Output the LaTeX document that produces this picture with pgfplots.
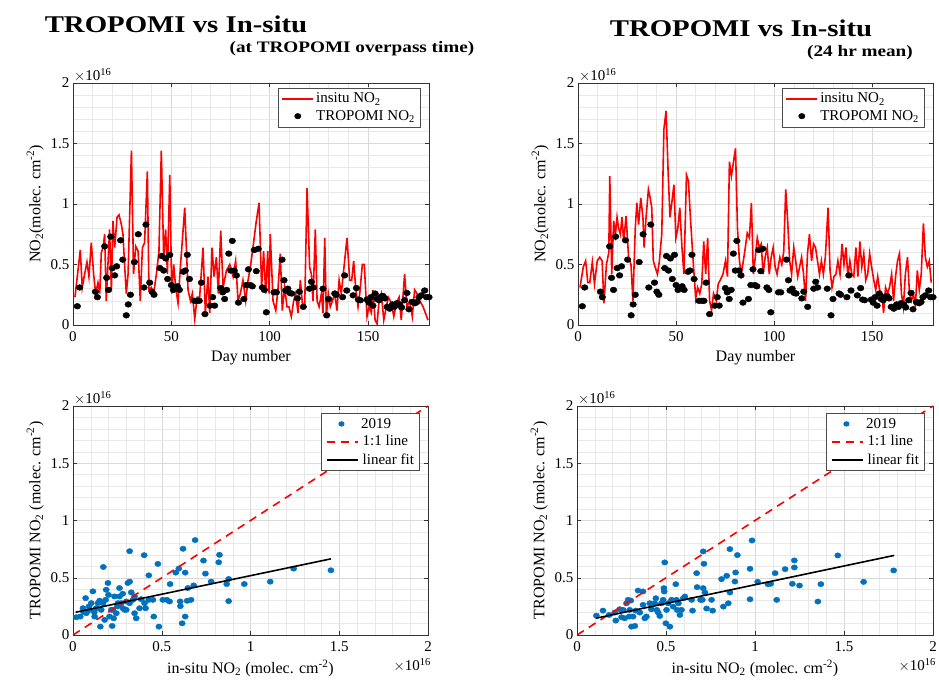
\documentclass[border=0pt]{standalone}
\usepackage{fontspec}
\setmainfont{Liberation Serif}
\usepackage{pgfplots}
\usepackage{pgfplotstable}
\pgfplotsset{compat=1.18}
\definecolor{mblue}{rgb}{0,0.447,0.741}

\pgfplotstableread{
x y
2.2 0.155
3.4 0.31
11.4 0.275
12.4 0.23
16.1 0.65
17.1 0.39
18.1 0.29
19.2 0.73
20.0 0.47
21.2 0.41
22.2 0.485
24.2 0.70
25.3 0.54
27.1 0.08
28.1 0.17
29.2 0.25
31.2 0.52
33.2 0.75
36.1 0.31
37.1 0.83
39.0 0.35
40.2 0.275
41.2 0.25
44.2 0.47
45.1 0.57
46.1 0.45
47.1 0.55
48.1 0.38
49.2 0.58
50.0 0.33
51.0 0.29
52.0 0.305
53.1 0.32
54.1 0.29
56.1 0.44
57.1 0.45
58.1 0.58
59.2 0.38
61.7 0.20
63.1 0.20
64.2 0.20
65.3 0.35
67.1 0.09
69.7 0.16
71.0 0.23
72.0 0.16
75.1 0.305
76.1 0.27
77.1 0.215
78.1 0.29
79.2 0.59
80.2 0.45
81.0 0.695
82.0 0.45
83.1 0.41
84.1 0.185
86.9 0.215
88.1 0.33
89.2 0.46
90.2 0.33
91.2 0.32
92.2 0.62
93.2 0.445
94.2 0.63
96.3 0.31
97.3 0.29
98.3 0.105
102.2 0.27
103.4 0.27
106.3 0.54
107.3 0.37
108.1 0.285
109.2 0.30
110.2 0.265
111.2 0.26
114.1 0.22
115.1 0.275
117.1 0.15
120.2 0.30
121.2 0.357
122.2 0.31
127.1 0.30
129.0 0.08
130.0 0.215
133.1 0.26
133.9 0.25
137.1 0.23
138.1 0.41
139.2 0.285
142.4 0.245
144.1 0.305
145.1 0.21
146.1 0.205
149.5 0.21
150.5 0.185
151.5 0.23
152.5 0.16
153.6 0.26
154.6 0.215
155.6 0.205
156.6 0.235
157.6 0.24
158.6 0.22
159.7 0.15
161.0 0.135
162.4 0.17
163.4 0.15
164.7 0.18
166.1 0.17
167.1 0.145
168.6 0.205
169.8 0.265
170.8 0.13
172.5 0.19
173.9 0.18
174.9 0.19
175.9 0.23
177.1 0.245
178.8 0.285
179.7 0.23
181.0 0.23
}\tropomi

\pgfplotstableread{
x y
1.0 0.23
3.7 0.62
4.7 0.31
5.9 0.42
7.1 0.52
8.1 0.40
9.3 0.68
10.5 0.42
11.5 0.26
12.7 0.35
13.6 0.26
14.4 0.60
15.3 0.64
16.1 0.75
16.9 0.20
18.6 0.79
19.5 0.29
20.3 0.86
21.2 0.64
22.4 0.89
23.4 0.91
24.6 0.83
25.4 0.75
26.3 0.48
27.1 0.26
28.0 0.42
29.7 1.44
30.8 0.42
31.9 0.65
33.1 0.61
34.2 0.20
35.3 0.64
36.4 0.68
37.8 1.27
38.6 0.29
39.8 0.31
41.0 0.26
42.4 0.42
43.7 0.61
44.9 1.44
46.1 0.56
47.1 0.79
48.0 0.42
49.2 1.24
50.2 0.26
51.2 0.50
52.2 0.31
53.4 0.18
54.6 0.48
56.8 0.97
58.5 0.29
59.7 0.20
60.7 0.26
61.9 0.05
63.1 0.23
64.4 0.23
66.1 0.64
67.3 0.10
68.6 0.40
69.5 0.10
70.7 0.64
71.7 0.40
72.9 0.56
73.9 0.26
75.1 0.78
76.3 0.31
78.0 0.45
79.7 0.50
81.4 0.40
82.7 0.53
83.9 0.20
85.1 0.26
86.4 0.37
87.8 0.20
89.0 0.37
90.2 0.48
91.5 0.64
93.2 0.86
94.6 1.01
95.9 0.31
96.9 0.61
98.0 0.26
99.0 0.61
99.7 0.26
100.3 0.75
101.7 0.20
103.1 0.12
104.2 0.29
105.4 0.59
106.4 0.12
107.6 0.31
108.8 0.15
109.8 0.15
111.0 0.07
112.2 0.20
113.2 0.26
114.4 0.10
115.6 0.37
116.6 0.18
117.8 0.15
119.0 1.13
120.3 0.48
121.2 0.42
122.0 0.20
123.2 0.79
124.1 0.20
125.1 0.15
126.3 0.26
127.1 0.10
128.0 0.72
128.8 0.07
129.8 0.26
130.8 0.15
131.9 0.20
133.1 0.26
134.2 0.12
135.3 0.37
136.4 0.26
139.3 0.72
140.7 0.37
141.7 0.37
142.7 0.53
143.7 0.31
144.9 0.15
145.8 0.26
147.1 0.50
148.1 0.50
149.5 0.07
150.5 0.15
151.7 0.10
152.5 0.29
153.6 0.04
154.6 0.01
155.6 0.20
156.8 0.26
158.0 0.04
159.3 0.15
160.3 0.23
161.9 0.18
163.1 0.07
164.4 0.18
165.8 0.23
166.9 0.04
168.6 0.42
169.8 0.15
171.2 0.20
172.5 0.07
173.7 0.29
174.9 0.26
176.3 0.20
178.0 0.15
180.5 0.04
}\insituA

\pgfplotstableread{
x y
1.0 0.31
2.7 0.48
3.9 0.53
5.0 0.35
6.0 0.35
7.3 0.52
8.4 0.34
9.8 0.53
11.1 0.56
12.3 0.53
13.2 0.18
14.5 0.50
15.7 0.60
16.2 1.23
17.2 0.42
18.2 0.86
19.1 0.75
19.9 0.89
20.7 0.80
21.6 0.75
22.4 0.89
23.3 0.69
24.5 0.90
25.8 0.56
27.0 0.50
28.0 0.20
29.2 0.80
30.0 1.01
30.9 0.83
32.0 1.05
33.1 0.89
33.7 0.64
34.7 0.89
35.9 1.12
36.8 1.05
37.6 0.97
38.4 0.53
39.3 0.48
40.5 0.42
41.5 0.53
42.7 0.75
43.8 1.62
44.9 1.77
46.0 1.24
46.9 0.89
47.9 1.02
48.9 1.16
49.9 0.72
50.9 0.80
51.9 0.97
53.0 0.64
54.0 0.42
55.3 1.24
56.3 1.19
57.3 0.89
58.7 0.53
60.0 0.22
61.0 0.31
62.1 0.26
63.1 0.34
64.1 0.69
65.1 0.42
66.1 0.72
67.1 0.20
68.1 0.12
69.1 0.26
70.5 0.20
71.5 0.34
72.5 0.37
73.9 0.42
75.2 0.53
76.2 0.40
77.2 1.35
78.2 1.23
79.3 1.35
80.3 1.46
81.3 0.80
82.3 0.53
83.3 0.42
84.3 0.53
85.3 0.64
86.3 0.76
87.4 0.72
88.4 1.01
89.4 0.42
90.4 0.56
91.4 0.72
92.4 0.64
93.4 0.67
94.4 0.42
95.4 0.56
96.5 0.64
97.5 0.42
98.5 0.56
99.5 0.64
100.5 0.48
101.5 0.42
102.9 0.56
103.9 0.50
104.9 0.61
105.9 1.12
106.9 0.86
107.9 0.53
108.9 0.42
110.0 0.64
111.0 0.53
112.0 0.40
113.0 0.48
114.0 0.56
115.0 0.42
116.0 0.20
117.0 0.59
118.0 0.75
119.1 0.53
120.1 0.67
121.1 0.64
122.1 0.53
123.1 0.42
124.1 0.53
125.1 0.42
126.1 0.56
127.5 0.97
128.5 0.45
129.5 0.31
130.5 0.40
131.5 0.42
132.5 0.53
133.6 0.42
134.6 0.67
135.6 0.50
136.6 0.64
137.6 0.40
138.6 0.53
139.6 0.42
140.6 0.40
141.7 0.64
142.7 0.40
143.7 0.69
144.7 0.48
145.7 0.59
146.7 0.37
147.7 0.42
148.7 0.59
149.7 0.48
150.8 0.37
151.8 0.29
152.8 0.40
153.8 0.29
154.8 0.26
155.8 0.10
156.8 0.31
157.8 0.26
158.8 0.31
159.9 0.42
160.9 0.20
161.9 0.40
162.9 0.53
163.9 0.59
164.9 0.26
165.9 0.15
166.9 0.42
168.0 0.56
169.0 0.26
170.0 0.20
171.0 0.26
172.0 0.15
173.0 0.45
174.0 0.29
175.0 0.42
176.1 0.84
177.1 0.56
178.1 0.48
179.1 0.53
180.1 0.35
}\insituB

\pgfplotstableread{
x y
0.171 0.594
0.319 0.732
0.401 0.697
0.427 0.521
0.478 0.621
0.620 0.753
0.688 0.829
0.735 0.650
0.746 0.536
0.632 0.545
0.596 0.580
0.579 0.545
0.825 0.700
0.821 0.635
0.778 0.466
0.866 0.445
0.877 0.489
0.877 0.296
0.965 0.445
1.111 0.466
1.243 0.580
1.453 0.565
0.547 0.445
0.647 0.410
0.680 0.433
0.665 0.307
0.643 0.299
0.604 0.293
0.605 0.252
0.632 0.161
0.615 0.102
0.506 0.307
0.529 0.307
0.544 0.293
0.450 0.307
0.427 0.307
0.455 0.161
0.484 0.073
0.409 0.234
0.375 0.234
0.356 0.146
0.347 0.190
0.337 0.307
0.328 0.372
0.309 0.454
0.319 0.466
0.262 0.410
0.262 0.337
0.253 0.278
0.272 0.278
0.281 0.234
0.291 0.220
0.300 0.220
0.234 0.337
0.225 0.220
0.221 0.079
0.229 0.146
0.206 0.161
0.197 0.454
0.187 0.395
0.184 0.307
0.169 0.278
0.159 0.220
0.154 0.073
0.178 0.132
0.141 0.278
0.131 0.234
0.112 0.381
0.103 0.278
0.094 0.220
0.071 0.322
0.056 0.234
0.041 0.161
0.019 0.155
0.075 0.190
0.122 0.161
0.216 0.220
0.244 0.190
0.300 0.293
0.319 0.278
0.347 0.337
0.384 0.313
0.403 0.278
0.090 0.250
0.150 0.300
0.200 0.350
0.250 0.250
0.280 0.360
0.120 0.200
0.060 0.200
}\scatA

\pgfplotstableread{
x y
0.109 0.169
0.146 0.213
0.180 0.175
0.212 0.196
0.218 0.126
0.250 0.155
0.259 0.219
0.268 0.146
0.278 0.277
0.287 0.307
0.293 0.161
0.302 0.301
0.306 0.073
0.315 0.161
0.325 0.079
0.330 0.213
0.343 0.388
0.353 0.196
0.371 0.380
0.371 0.263
0.381 0.146
0.390 0.161
0.409 0.277
0.418 0.225
0.437 0.277
0.443 0.321
0.456 0.196
0.465 0.166
0.475 0.277
0.484 0.307
0.488 0.409
0.493 0.634
0.499 0.102
0.503 0.219
0.512 0.277
0.522 0.073
0.531 0.307
0.540 0.248
0.555 0.444
0.559 0.307
0.563 0.219
0.570 0.277
0.578 0.175
0.587 0.219
0.597 0.321
0.606 0.336
0.644 0.307
0.649 0.213
0.672 0.540
0.675 0.418
0.694 0.307
0.704 0.307
0.709 0.730
0.709 0.409
0.713 0.622
0.719 0.371
0.728 0.231
0.756 0.307
0.762 0.213
0.812 0.488
0.822 0.248
0.841 0.517
0.850 0.277
0.859 0.750
0.859 0.371
0.887 0.467
0.891 0.546
0.901 0.698
0.972 0.578
0.972 0.312
0.983 0.826
1.015 0.464
1.073 0.444
1.088 0.447
1.113 0.540
1.122 0.307
1.169 0.575
1.210 0.447
1.221 0.651
1.221 0.590
1.250 0.432
1.353 0.292
1.370 0.444
1.465 0.695
1.610 0.464
1.779 0.564
0.490 0.380
0.448 0.219
0.296 0.219
0.240 0.225
}\scatB

\pgfplotsset{
  mystyle/.style={
    scale only axis,
    clip mode=individual,
    axis line style={draw=black!80, line width=0.6pt},
    tick align=inside,
    major tick length=4pt,
    minor tick length=0pt,
    tick style={black!80, line width=0.5pt},
    grid=both,
    major grid style={black!15, line width=0.5pt},
    minor grid style={black!9, line width=0.4pt},
    ymin=0, ymax=2,
    ytick={0,0.5,1,1.5,2},
    minor y tick num=4,
    ticklabel style={font=\fontsize{15}{17}\selectfont},
    xticklabel style={yshift=-3pt},
    /pgf/number format/assume math mode=true,
    label style={font=\fontsize{16}{18}\selectfont},
    legend style={font=\fontsize{15}{18}\selectfont, draw=black!70,
      fill=white, inner sep=3pt, row sep=2pt},
    legend cell align=left,
  },
  topstyle/.style={
    mystyle,
    width=356pt, height=242pt,
    xmin=0, xmax=181,
    xtick={0,50,100,150},
    minor x tick num=4,
    xlabel={Day number},
    ylabel={NO\textsubscript{2}(molec. cm\textsuperscript{-2})},
    xlabel style={yshift=-2pt},
    legend style={at={(0.975,0.98)}, anchor=north east},
  },
  botstyle/.style={
    mystyle,
    width=356pt, height=229pt,
    xmin=0, xmax=2,
    xtick={0,0.5,1,1.5,2},
    minor x tick num=4,
    xlabel={in-situ NO\textsubscript{2} (molec. cm\textsuperscript{-2})},
    ylabel={TROPOMI NO\textsubscript{2} (molec. cm\textsuperscript{-2})},
    xlabel style={yshift=-1pt},
    legend style={at={(0.975,0.97)}, anchor=north east},
  },
}

\newcommand{\expo}{$\times$10\textsuperscript{16}}
\newcommand{\ldot}{\tikz[baseline=-0.6ex]{\path (0,0) -- (1.1cm,0); \fill[mblue] (0.55cm,0) ellipse [x radius=3.1pt, y radius=2.7pt];}\hspace{4pt}}
\newcommand{\ldash}{\tikz[baseline=-0.6ex]{\draw[red, line width=1.6pt, dash pattern=on 8pt off 6pt] (0,0) -- (1.1cm,0);}\hspace{4pt}}
\newcommand{\lline}{\tikz[baseline=-0.6ex]{\draw[black, line width=1.6pt] (0,0) -- (1.1cm,0);}\hspace{4pt}}

\begin{document}
\begin{tikzpicture}
\path[use as bounding box] (0,0) rectangle (939pt,688pt);

% titles
\node[font=\bfseries\fontsize{24}{27}\selectfont, xscale=1.2] at (176pt,664pt) {TROPOMI vs In-situ};
\node[font=\bfseries\fontsize{16}{18}\selectfont, xscale=1.2] at (352pt,639pt) {(at TROPOMI overpass time)};
\node[font=\bfseries\fontsize{24}{27}\selectfont, xscale=1.2] at (741pt,660pt) {TROPOMI vs In-situ};
\node[font=\bfseries\fontsize{16}{18}\selectfont, xscale=1.2] at (860pt,635pt) {(24 hr mean)};

% top left
\begin{axis}[topstyle, at={(73pt,363pt)}, anchor=south west]
\addlegendimage{legend image code/.code={\draw[red, line width=1.6pt] (0cm,0cm) -- (1.1cm,0cm);}}
\addlegendentry{insitu NO\textsubscript{2}}
\addlegendimage{legend image code/.code={\fill[black] (0.55cm,0cm) ellipse [x radius=3.2pt, y radius=2.8pt];}}
\addlegendentry{TROPOMI NO\textsubscript{2}}
\addplot[red, line width=1.6pt, forget plot] table {\insituA};
\addplot[only marks, mark=*, mark size=2.9pt, black, mark options={xscale=1.15}, forget plot] table {\tropomi};
\node[anchor=south west, font=\fontsize{15}{17}\selectfont, inner sep=1pt] at (rel axis cs:0,1) {\expo};
\end{axis}

% top right
\begin{axis}[topstyle, at={(578pt,363pt)}, anchor=south west, width=355pt]
\addlegendimage{legend image code/.code={\draw[red, line width=1.6pt] (0cm,0cm) -- (1.1cm,0cm);}}
\addlegendentry{insitu NO\textsubscript{2}}
\addlegendimage{legend image code/.code={\fill[black] (0.55cm,0cm) ellipse [x radius=3.2pt, y radius=2.8pt];}}
\addlegendentry{TROPOMI NO\textsubscript{2}}
\addplot[red, line width=1.6pt, forget plot] table {\insituB};
\addplot[only marks, mark=*, mark size=2.9pt, black, mark options={xscale=1.15}, forget plot] table {\tropomi};
\node[anchor=south west, font=\fontsize{15}{17}\selectfont, inner sep=1pt] at (rel axis cs:0,1) {\expo};
\end{axis}

% bottom left
\begin{axis}[botstyle, at={(73pt,53pt)}, anchor=south west, width=355pt]
\addlegendimage{empty legend}
\addlegendentry{\ldot 2019}
\addlegendimage{empty legend}
\addlegendentry{\ldash 1:1 line}
\addlegendimage{empty legend}
\addlegendentry{\lline linear fit}
\addplot[only marks, mark=*, mark size=2.7pt, mblue, mark options={xscale=1.15}, forget plot] table {\scatA};
\addplot[red, line width=1.6pt, dash pattern=on 8pt off 6pt, forget plot] coordinates {(0,0) (2,2)};
\addplot[black, line width=1.6pt, forget plot] coordinates {(0.015,0.199) (1.453,0.665)};
\node[anchor=south west, font=\fontsize{15}{17}\selectfont, inner sep=1pt] at (rel axis cs:0,1) {\expo};
\node[anchor=north east, font=\fontsize{15}{17}\selectfont, inner sep=1pt] at ([xshift=4pt,yshift=-22pt]rel axis cs:1,0) {\expo};
\end{axis}

% bottom right
\begin{axis}[botstyle, at={(577pt,53pt)}, anchor=south west]
\addlegendimage{empty legend}
\addlegendentry{\ldot 2019}
\addlegendimage{empty legend}
\addlegendentry{\ldash 1:1 line}
\addlegendimage{empty legend}
\addlegendentry{\lline linear fit}
\addplot[only marks, mark=*, mark size=2.7pt, mblue, mark options={xscale=1.15}, forget plot] table {\scatB};
\addplot[red, line width=1.6pt, dash pattern=on 8pt off 6pt, forget plot] coordinates {(0,0) (2,2)};
\addplot[black, line width=1.6pt, forget plot] coordinates {(0.105,0.146) (1.782,0.695)};
\node[anchor=south west, font=\fontsize{15}{17}\selectfont, inner sep=1pt] at (rel axis cs:0,1) {\expo};
\node[anchor=north east, font=\fontsize{15}{17}\selectfont, inner sep=1pt] at ([xshift=4pt,yshift=-22pt]rel axis cs:1,0) {\expo};
\end{axis}
\end{tikzpicture}
\end{document}
